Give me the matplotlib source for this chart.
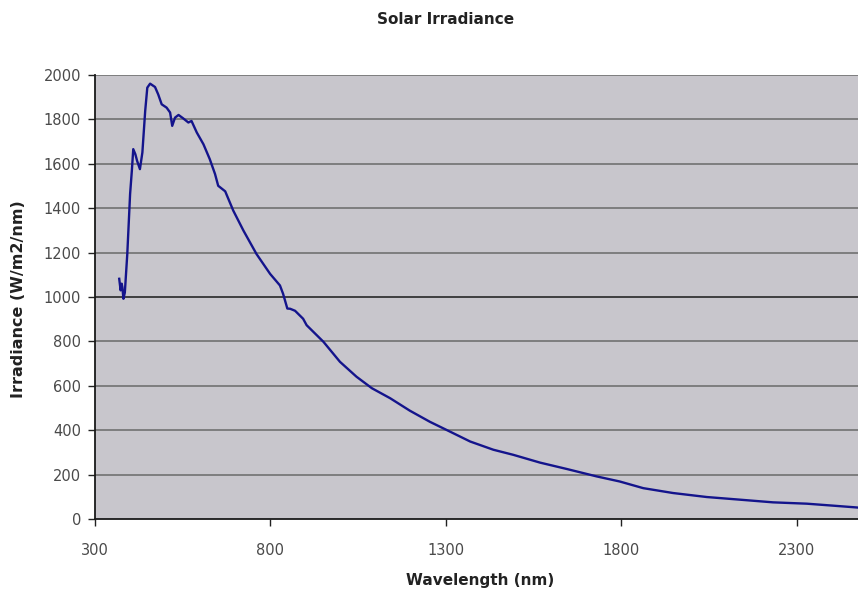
import numpy as np
import matplotlib.pyplot as plt

# wavelength (nm) and irradiance
wavelength = [369, 373, 376, 378, 381, 385, 392, 400, 405, 409, 415, 420, 428, 435,
              443, 449, 457, 471, 480, 490, 504, 514, 520, 528, 538, 551, 566, 575,
              590, 609, 627, 642, 651, 671, 694, 723, 760, 799, 827, 836, 848, 856,
              870, 893, 903, 951, 998, 1045, 1089, 1141, 1197, 1254, 1311, 1369,
              1435, 1492, 1568, 1645, 1729, 1795, 1862, 1947, 2043, 2138, 2232,
              2328, 2404, 2470, 2500]
irradiance = [1082, 1030, 1060, 1044, 992, 1020, 1194, 1464, 1569, 1666, 1643, 1613,
              1576, 1651, 1838, 1943, 1961, 1946, 1913, 1868, 1853, 1831, 1771, 1808,
              1820, 1805, 1786, 1793, 1741, 1688, 1621, 1554, 1501, 1476, 1389, 1299,
              1194, 1104, 1052, 1014, 948, 947, 938, 902, 873, 798, 708, 641, 589,
              544, 488, 438, 394, 349, 312, 289, 254, 225, 192, 169, 139, 117, 99,
              87, 75, 69, 60, 52, 48]

xticks = [300, 800, 1300, 1800, 2300]
yticks = list(range(0, 2001, 200))

plt.rcParams['font.family'] = ['DejaVu Sans']

fig = plt.figure(figsize=(8.58, 5.93), dpi=100)
ax = fig.add_axes([95 / 858, 1 - 519 / 593, 763 / 858, 444 / 593])
ax.set_facecolor('#c8c6cc')

# horizontal gridlines, the 1000 one looks darker in the original
for y in yticks[1:]:
    c = '#1a1a1a' if y == 1000 else '#6a6a6a'
    ax.axhline(y, color=c, lw=1.1, zorder=1)

ax.plot(wavelength, irradiance, color='#14148c', lw=1.7, zorder=3)

ax.set_xlim(300, 2474)
ax.set_ylim(0, 2000)
ax.set_xticks(xticks)
ax.set_yticks(yticks)
ax.tick_params(axis='both', direction='out', length=5, width=1, color='#222222',
               labelsize=10.5, labelcolor='#4a4a4a')
ax.tick_params(axis='y', pad=5)
ax.tick_params(axis='x', pad=12)

for s in ['top', 'right']:
    ax.spines[s].set_visible(False)
ax.spines['left'].set_color('#1a1a1a')
ax.spines['bottom'].set_color('#1a1a1a')
ax.spines['left'].set_linewidth(1.3)
ax.spines['bottom'].set_linewidth(1.3)

fig.text(446 / 858, 1 - 20 / 593, 'Solar Irradiance', ha='center', va='center',
         fontsize=11, fontweight='bold', color='#222222')
fig.text(480 / 858, 1 - 580 / 593, 'Wavelength (nm)', ha='center', va='center',
         fontsize=11, fontweight='bold', color='#222222')
fig.text(19 / 858, 1 - 299 / 593, 'Irradiance (W/m2/nm)', ha='center', va='center',
         rotation=90, fontsize=11.5, fontweight='bold', color='#222222')

fig.savefig('out.png', dpi=100)
